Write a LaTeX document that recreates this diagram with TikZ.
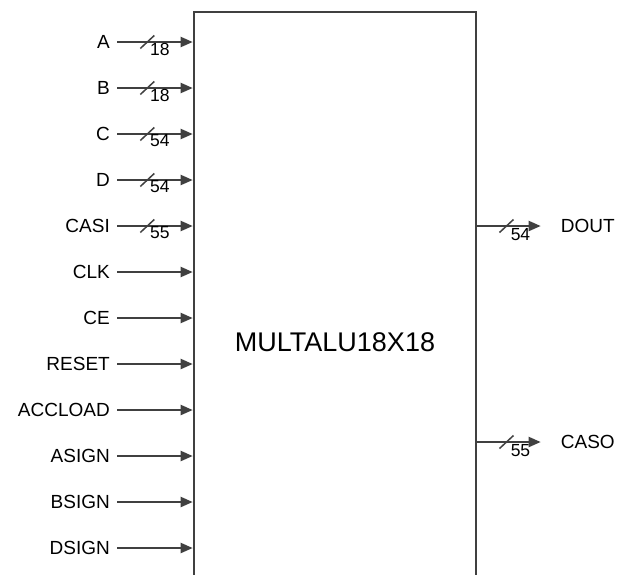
\documentclass[tikz,border=0pt]{standalone}
\usepackage{fontspec}
\setmainfont{Liberation Sans}
\usetikzlibrary{arrows.meta}
\usetikzlibrary{positioning}
\definecolor{wire}{RGB}{64,64,64}

\tikzset{
	sig/.style = {draw=wire, line width=2pt, -{Triangle[length=12pt,width=10pt]}},
	slash/.style = {draw=wire, line width=1.5pt},
	inlbl/.style = {anchor=east, inner xsep=7pt, inner ysep=1pt, font=\fontsize{19}{22}\selectfont},
	outlbl/.style = {anchor=west, inner xsep=0pt, inner ysep=1pt, font=\fontsize{19}{22}\selectfont},
	width/.style = {inner sep=0pt, font=\fontsize{17.5}{20}\selectfont}
}

\begin{document}
\begin{tikzpicture}[x=1pt, y=-1pt]
		\useasboundingbox (0,0) rectangle (618,574);
		\clip (0,0) rectangle (618,574);

		% block
		\node[draw=wire, line width=2pt, minimum width=282.6pt, minimum height=600pt, anchor=north west] (alu) at (192.7,11) {};
		\node[font=\fontsize{27}{30}\selectfont] (title) at (335,342) {MULTALU18X18};

		% inputs
		\path
		(117,42) node[inlbl] (A) {A}
		(117,88) node[inlbl] (B) {B}
		(117,134) node[inlbl] (C) {C}
		(117,180) node[inlbl] (D) {D}
		(117,226) node[inlbl] (CASI) {CASI}
		(117,272) node[inlbl] (CLK) {CLK}
		(117,318) node[inlbl] (CE) {CE}
		(117,364) node[inlbl] (RESET) {RESET}
		(117,410) node[inlbl] (ACCLOAD) {ACCLOAD}
		(117,456) node[inlbl] (ASIGN) {ASIGN}
		(117,502) node[inlbl] (BSIGN) {BSIGN}
		(117,548) node[inlbl] (DSIGN) {DSIGN};

		% outputs
		\path
		(560.7,226) node[outlbl] (DOUT) {DOUT}
		(560.7,442) node[outlbl] (CASO) {CASO};

		% buses
		\foreach \n/\w in {A/18, B/18, C/54, D/54, CASI/55} {
			\draw[sig] (\n.east) -- coordinate[pos=0.4] (\n-bus) (\n.east -| alu.west);
			\draw[slash] ([shift={(-7,6.5)}]\n-bus) -- ([shift={(7,-6.5)}]\n-bus);
			\node[width] at ([shift={(12.5,7)}]\n-bus) {\w};
		}

		% single lines
		\foreach \n in {CLK, CE, RESET, ACCLOAD, ASIGN, BSIGN, DSIGN}
			\draw[sig] (\n.east) -- (\n.east -| alu.west);

		\foreach \n/\w in {DOUT/54, CASO/55} {
			\draw[sig, shorten >=20pt] (\n.west -| alu.east) -- coordinate[pos=0.35] (\n-bus) (\n.west);
			\draw[slash] ([shift={(-7,6.5)}]\n-bus) -- ([shift={(7,-6.5)}]\n-bus);
			\node[width] at ([shift={(14,8.5)}]\n-bus) {\w};
		}
	\end{tikzpicture}
\end{document}
